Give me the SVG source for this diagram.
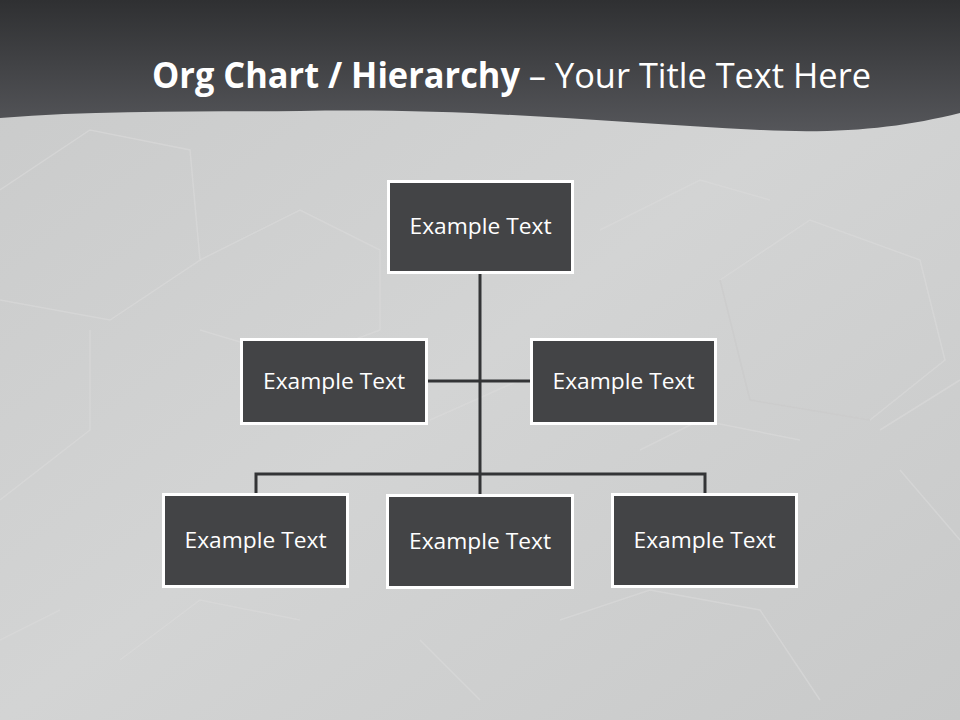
<svg xmlns="http://www.w3.org/2000/svg" width="960" height="720" viewBox="0 0 960 720">
<defs>
<linearGradient id="bg" x1="0" y1="0" x2="1" y2="1">
<stop offset="0" stop-color="#c9caca"/>
<stop offset="0.5" stop-color="#d3d4d4"/>
<stop offset="1" stop-color="#c8c9c9"/>
</linearGradient>
<linearGradient id="hdr" x1="0" y1="0" x2="0" y2="1">
<stop offset="0" stop-color="#2f3032"/>
<stop offset="1" stop-color="#55565a"/>
</linearGradient>
<style>
.node rect{fill:#434446;stroke:#ffffff;stroke-width:3}
.node text{fill:#ffffff;font-family:"Open Sans","Noto Sans","DejaVu Sans",sans-serif;font-size:22px;text-anchor:middle}
.conn{stroke:#333436;stroke-width:3;fill:none}
.hex{fill:none;stroke:#dadbdb;stroke-width:1.5;opacity:0.6}
.hexs{fill:none;stroke:#bdbebe;stroke-width:1.5;opacity:0.4}
</style>
</defs>
<rect x="0" y="0" width="960" height="720" fill="url(#bg)"/>
<g id="pattern">
<path class="hex" d="M0,190 L90,130 L190,150 L200,260 L110,320 L0,300"/>
<path class="hex" d="M200,260 L300,210 L380,250 L380,330 L300,360 L200,330"/>
<path class="hex" d="M0,500 L90,430 L90,330"/>
<path class="hex" d="M720,280 L810,220 L920,260 L945,360 L870,420 L750,400 Z"/>
<path class="hexs" d="M720,280 L750,400 L870,420"/>
<path class="hex" d="M600,230 L700,180 L770,200"/>
<path class="hex" d="M880,430 L960,380"/>
<path class="hex" d="M900,470 L960,540"/>
<path class="hex" d="M560,620 L650,590 L760,610 L820,700"/>
<path class="hex" d="M120,660 L200,600 L300,620"/>
<path class="hex" d="M430,420 L520,380"/>
<path class="hex" d="M640,450 L700,420 L800,440"/>
<path class="hex" d="M0,640 L60,610"/>
<path class="hex" d="M420,640 L480,700"/>
</g>
<path d="M0,0 H960 V113 C900,128 840,134 760,130 C600,122 480,108 300,111 C200,112 100,110 0,118 Z" fill="url(#hdr)"/>
<text x="152" y="88" fill="#ffffff" font-family="'Open Sans','Noto Sans',sans-serif" font-size="35" textLength="719" lengthAdjust="spacingAndGlyphs"><tspan font-weight="bold">Org Chart / Hierarchy</tspan> – Your Title Text Here</text>
<g id="connectors">
<line class="conn" x1="480" y1="274" x2="480" y2="494"/>
<line class="conn" x1="428" y1="381" x2="530" y2="381"/>
<polyline class="conn" points="256,493 256,474 705,474 705,493"/>
</g>
<g id="node-top" class="node">
<rect x="388.5" y="181.5" width="184" height="91"/>
<text x="480.5" y="234" textLength="142" lengthAdjust="spacingAndGlyphs">Example Text</text>
</g>
<g id="node-mid-left" class="node">
<rect x="241.5" y="339.5" width="185" height="84"/>
<text x="334" y="389" textLength="142" lengthAdjust="spacingAndGlyphs">Example Text</text>
</g>
<g id="node-mid-right" class="node">
<rect x="531.5" y="339.5" width="184" height="84"/>
<text x="623.5" y="389" textLength="142" lengthAdjust="spacingAndGlyphs">Example Text</text>
</g>
<g id="node-bot-left" class="node">
<rect x="163.5" y="494.5" width="184" height="92"/>
<text x="255.5" y="548" textLength="142" lengthAdjust="spacingAndGlyphs">Example Text</text>
</g>
<g id="node-bot-mid" class="node">
<rect x="387.5" y="495.5" width="185" height="92"/>
<text x="480" y="549" textLength="142" lengthAdjust="spacingAndGlyphs">Example Text</text>
</g>
<g id="node-bot-right" class="node">
<rect x="612.5" y="494.5" width="184" height="92"/>
<text x="704.5" y="548" textLength="142" lengthAdjust="spacingAndGlyphs">Example Text</text>
</g>
</svg>
